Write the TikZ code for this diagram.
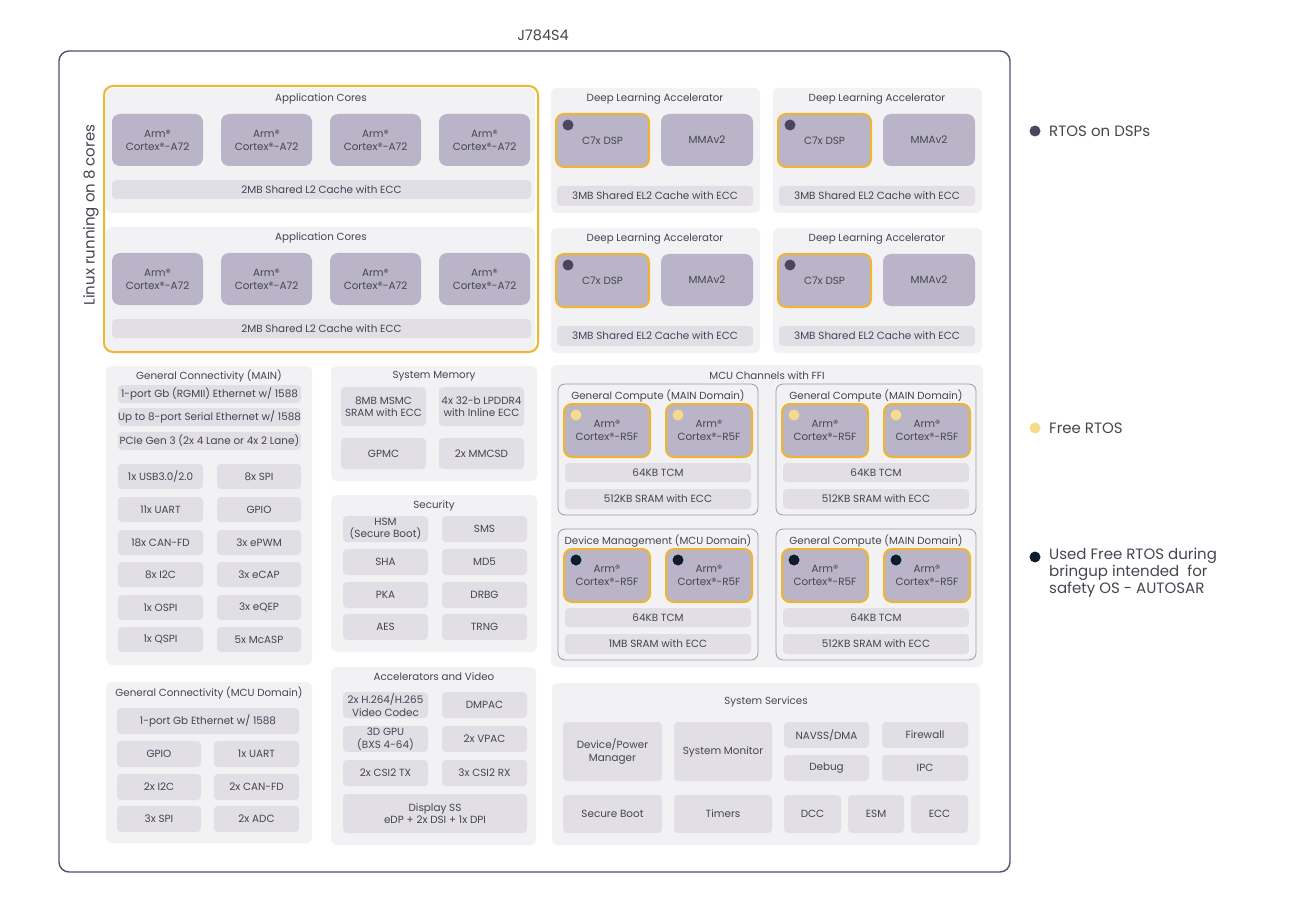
\documentclass[tikz,border=0pt]{standalone}
\usepackage{fontspec}
\setmainfont{Poppins}
\usetikzlibrary{calc}

\definecolor{frameline}{HTML}{4B5670}
\definecolor{panelbg}{HTML}{F2F1F4}
\definecolor{corebg}{HTML}{BAB4C9}
\definecolor{cellbg}{HTML}{E1DEE6}
\definecolor{rtosline}{HTML}{F0B52E}
\definecolor{txt}{HTML}{45454F}
\definecolor{dspdot}{HTML}{4B4560}
\definecolor{freedot}{HTML}{F5DB8C}
\definecolor{safedot}{HTML}{0E1D2B}
\definecolor{subline}{HTML}{9C9BA6}

% box from (x1,y1) to (x2,y2): style, name, x1, y1, x2, y2, text
\newcommand{\blk}[7]{%
  \node[#1, minimum width={(#5)*1pt-(#3)*1pt}, minimum height={(#6)*1pt-(#4)*1pt}]
    (#2) at ({((#3)+(#5))/2},{((#4)+(#6))/2}) {#7};}

\begin{document}
\begin{tikzpicture}[x=1pt, y=-1pt,
  chip/.style={draw=frameline, line width=1.4pt, rounded corners=10pt, fill=white, inner sep=0pt},
  linuxbox/.style={draw=rtosline, line width=2pt, rounded corners=9pt, inner sep=0pt},
  panel/.style={fill=panelbg, rounded corners=6pt, inner sep=0pt},
  subpanel/.style={panel, draw=subline, line width=0.8pt, rounded corners=7pt},
  cell/.style={fill=cellbg, rounded corners=4pt, text=txt, align=center, inner sep=0pt,
    font=\fontsize{10.4}{12.5}\selectfont},
  core/.style={cell, fill=corebg, rounded corners=8pt, font=\fontsize{10.4}{13}\selectfont},
  rtos/.style={core, draw=rtosline, line width=2pt},
  ttl/.style={text=txt, inner sep=0pt, font=\fontsize{10.3}{12}\selectfont},
  dot/.style={circle, inner sep=0pt, minimum size=11pt},
  legend/.style={text=txt, anchor=west, align=left, inner sep=0pt,
    font=\fontsize{15}{17}\selectfont}]
  \useasboundingbox (0,0) rectangle (1290,909);

  % chip frame
  \blk{chip}{chip}{59}{51}{1010}{872}{}
  \node[ttl, font=\fontsize{14.5}{16}\selectfont] (chipt) at (543,35) {J784S4};

  % application cores
  \foreach \r/\dy in {1/0,2/139} {
    \blk{panel}{app\r}{106}{88+\dy}{535}{213+\dy}{}
    \node[ttl] (app\r t) at (321,99+\dy) {Application Cores};
    \foreach \c/\x in {1/112,2/221,3/330,4/439} {
      \blk{core}{app\r-c\c}{\x}{114+\dy}{\x+91}{166+\dy}{Arm®\\Cortex®-A72}
    }
    \blk{cell}{app\r-l2}{112}{180+\dy}{531}{199+\dy}{2MB Shared L2 Cache with ECC}
  }
  \blk{linuxbox}{linux}{104}{86}{538}{352}{}
  \node[ttl, rotate=90, font=\fontsize{15}{17}\selectfont] (linuxt) at (91,215) {Linux running on 8 cores};

  % deep learning accelerators
  \foreach \n/\x/\y in {1/0/0,2/222/0,3/0/140,4/222/140} {
    \blk{panel}{dla\n}{551+\x}{88+\y}{760+\x}{213+\y}{}
    \node[ttl] (dla\n t) at (655+\x,99+\y) {Deep Learning Accelerator};
    \blk{rtos}{dsp\n}{556+\x}{114+\y}{649+\x}{167+\y}{C7x DSP}
    \node[dot, fill=dspdot] (dsp\n d) at ($(dsp\n.north west)+(13,12)$) {};
    \blk{core}{mma\n}{661+\x}{114+\y}{753+\x}{166+\y}{MMAv2}
    \blk{cell}{el2\n}{557+\x}{186+\y}{753+\x}{206+\y}{3MB Shared EL2 Cache with ECC}
  }

  % general connectivity (main)
  \blk{panel}{gcm}{106}{366}{312}{665}{}
  \node[ttl] (gcmt) at (209,376) {General Connectivity (MAIN)};
  \blk{cell}{eth}{118}{385}{301}{403}{1-port Gb (RGMII) Ethernet w/ 1588}
  \blk{cell}{seth}{118}{408}{301}{426}{Up to 8-port Serial Ethernet w/ 1588}
  \blk{cell}{pcie}{118}{432}{301}{450}{PCIe Gen 3 (2x 4 Lane or 4x 2 Lane)}
  \foreach \y/\a/\b [count=\i] in {464/1x USB3.0\slash2.0/8x SPI, 497/11x UART/GPIO,
      530/18x CAN-FD/3x ePWM, 562/8x I2C/3x eCAP, 595/1x OSPI/3x eQEP, 627/1x QSPI/5x McASP} {
    \blk{cell}{gcm\i a}{118}{\y}{203}{\y+25}{\a}
    \blk{cell}{gcm\i b}{217}{\y}{301}{\y+25}{\b}
  }

  % system memory
  \blk{panel}{mem}{331}{366}{537}{481}{}
  \node[ttl] (memt) at (434,376) {System Memory};
  \blk{cell}{msmc}{341}{387}{426}{426}{8MB MSMC\\SRAM with ECC}
  \blk{cell}{ddr}{439}{387}{524}{426}{4x 32-b LPDDR4\\with Inline ECC}
  \blk{cell}{gpmc}{341}{438}{426}{469}{GPMC}
  \blk{cell}{mmc}{439}{438}{524}{469}{2x MMCSD}

  % security
  \blk{panel}{sec}{331}{495}{537}{652}{}
  \node[ttl] (sect) at (434,506) {Security};
  \foreach \y/\a/\b [count=\i] in {516/HSM\\(Secure Boot)/SMS, 549/SHA/MD5, 582/PKA/DRBG, 614/AES/TRNG} {
    \blk{cell}{sec\i a}{343}{\y}{428}{\y+26}{\a}
    \blk{cell}{sec\i b}{442}{\y}{527}{\y+26}{\b}
  }

  % general connectivity (mcu)
  \blk{panel}{gcu}{106}{682}{312}{843}{}
  \node[ttl] (gcut) at (209,693) {General Connectivity (MCU Domain)};
  \blk{cell}{meth}{117}{708}{299}{734}{1-port Gb Ethernet w/ 1588}
  \foreach \y/\a/\b [count=\i] in {741/GPIO/1x UART, 774/2x I2C/2x CAN-FD, 806/3x SPI/2x ADC} {
    \blk{cell}{gcu\i a}{117}{\y}{201}{\y+26}{\a}
    \blk{cell}{gcu\i b}{214}{\y}{299}{\y+26}{\b}
  }

  % accelerators and video
  \blk{panel}{acc}{331}{667}{536}{845}{}
  \node[ttl] (acct) at (434,677) {Accelerators and Video};
  \foreach \y/\a/\b [count=\i] in {692/2x H.264\slash H.265\\Video Codec/DMPAC,
      726/3D GPU\\(BXS 4-64)/2x VPAC, 760/2x CSI2 TX/3x CSI2 RX} {
    \blk{cell}{acc\i a}{343}{\y}{428}{\y+26}{\a}
    \blk{cell}{acc\i b}{442}{\y}{527}{\y+26}{\b}
  }
  \blk{cell}{dss}{343}{794}{527}{833}{Display SS\\eDP + 2x DSI + 1x DPI}

  % mcu channels with ffi
  \blk{panel}{ffi}{551}{365}{983}{667}{}
  \node[ttl] (ffit) at (767,376) {MCU Channels with FFI};
  \foreach \n/\x/\y/\dc/\sram/\t in {1/0/0/freedot/512KB/General Compute (MAIN Domain),
      2/218/0/freedot/512KB/General Compute (MAIN Domain),
      3/0/145/safedot/1MB/Device Management (MCU Domain),
      4/218/145/safedot/512KB/General Compute (MAIN Domain)} {
    \blk{subpanel}{grp\n}{558+\x}{384+\y}{758+\x}{515+\y}{}
    \node[ttl] (grp\n t) at (658+\x,396+\y) {\t};
    \blk{rtos}{r5f\n a}{564+\x}{404+\y}{650+\x}{457+\y}{Arm®\\Cortex®-R5F}
    \blk{rtos}{r5f\n b}{666+\x}{404+\y}{752+\x}{457+\y}{Arm®\\Cortex®-R5F}
    \node[dot, fill=\dc] (r5f\n ad) at ($(r5f\n a.north west)+(13,12)$) {};
    \node[dot, fill=\dc] (r5f\n bd) at ($(r5f\n b.north west)+(13,12)$) {};
    \blk{cell}{tcm\n}{565+\x}{463+\y}{751+\x}{482+\y}{64KB TCM}
    \blk{cell}{sram\n}{565+\x}{489+\y}{751+\x}{509+\y}{\sram{} SRAM with ECC}
  }

  % system services
  \blk{panel}{svc}{552}{683}{980}{845}{}
  \node[ttl] (svct) at (766,702) {System Services};
  \blk{cell}{pwr}{563}{722}{662}{781}{Device/Power\\Manager}
  \blk{cell}{mon}{674}{722}{772}{781}{System Monitor}
  \blk{cell}{dma}{784}{722}{869}{748}{NAVSS/DMA}
  \blk{cell}{fw}{882}{722}{968}{748}{Firewall}
  \blk{cell}{dbg}{784}{755}{869}{781}{Debug}
  \blk{cell}{ipc}{882}{755}{968}{781}{IPC}
  \blk{cell}{sboot}{563}{795}{662}{833}{Secure Boot}
  \blk{cell}{tmr}{674}{795}{772}{833}{Timers}
  \blk{cell}{dcc}{784}{795}{841}{833}{DCC}
  \blk{cell}{esm}{848}{795}{904}{833}{ESM}
  \blk{cell}{ecc}{911}{795}{968}{833}{ECC}

  % legend
  \node[dot, fill=dspdot] (lg1) at (1035,131) {};
  \node[legend] (lg1t) at (1049,131) {RTOS on DSPs};
  \node[dot, fill=freedot] (lg2) at (1035,428) {};
  \node[legend] (lg2t) at (1049,428) {Free RTOS};
  \node[dot, fill=safedot] (lg3) at (1035,557) {};
  \node[legend, anchor=north west] (lg3t) at (1049,548) {Used Free RTOS during\\bringup intended\ \ for\\safety OS - AUTOSAR};
\end{tikzpicture}
\end{document}
